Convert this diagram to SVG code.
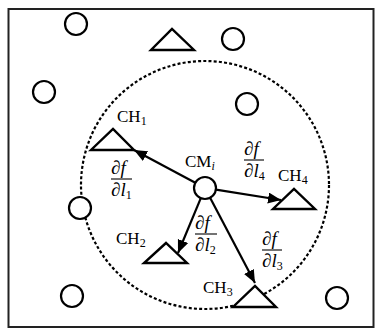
<svg xmlns="http://www.w3.org/2000/svg" width="376" height="329" viewBox="0 0 376 329">
<style>
.node{fill:#fff;stroke:#000;stroke-width:2.2}
.tri{fill:#fff;stroke:#000;stroke-width:2.4;stroke-linejoin:miter}
.conn{stroke:#000;stroke-width:2.2;fill:none}
.lbl{font-family:"Liberation Serif","DejaVu Serif",serif;font-size:17px;fill:#000}
.sub{font-size:12px}
.fr{font-family:"Liberation Serif","DejaVu Serif",serif;font-size:19px;fill:#000}
.fs{font-size:12px}
.bar{stroke:#000;stroke-width:1.1}
</style>
<defs>
<marker id="ah" markerUnits="userSpaceOnUse" markerWidth="14" markerHeight="12" refX="13" refY="5.5" orient="auto">
<path d="M0,0 L13,5.5 L0,11 Z" fill="#000"/>
</marker>
</defs>
<rect x="0" y="0" width="376" height="329" fill="#fff"/>
<rect x="8.5" y="9" width="365" height="318" fill="none" stroke="#222" stroke-width="2"/>
<circle cx="205" cy="185" r="124" fill="none" stroke="#000" stroke-width="2.2" stroke-dasharray="3 2.2"/>
<g id="n1"><circle class="node" cx="76" cy="24" r="11"/></g>
<g id="n2"><circle class="node" cx="233" cy="39" r="11"/></g>
<g id="n3"><circle class="node" cx="44" cy="92" r="11"/></g>
<g id="n4"><circle class="node" cx="247" cy="104" r="11"/></g>
<g id="n5"><circle class="node" cx="80" cy="208" r="11"/></g>
<g id="n6"><circle class="node" cx="72" cy="296" r="11"/></g>
<g id="n7"><circle class="node" cx="337" cy="298" r="11"/></g>
<g id="t0"><polygon class="tri" points="151,50 194,50 172,29"/></g>
<g id="CH1"><polygon class="tri" points="91,150 134,150 113,129"/>
<text class="lbl" x="117" y="122">CH<tspan class="sub" dy="3">1</tspan></text></g>
<g id="CH4"><polygon class="tri" points="273,209 315,209 294,189"/>
<text class="lbl" x="278" y="181">CH<tspan class="sub" dy="3">4</tspan></text></g>
<g id="CH2"><polygon class="tri" points="144,263 187,263 166,243"/>
<text class="lbl" x="116" y="244">CH<tspan class="sub" dy="3">2</tspan></text></g>
<g id="CH3"><polygon class="tri" points="233,307 276,307 255,286"/>
<text class="lbl" x="203" y="293">CH<tspan class="sub" dy="3">3</tspan></text></g>
<g id="CM"><circle class="node" cx="205" cy="188" r="11"/>
<text class="lbl" x="185" y="167">CM<tspan class="sub" font-style="italic" dy="3">i</tspan></text></g>
<g id="connectors">
<path class="conn" d="M195.3,182.8 L134,150" marker-end="url(#ah)"/>
<path class="conn" d="M215.9,189.7 L281,200" marker-end="url(#ah)"/>
<path class="conn" d="M200.8,198.2 L178,253" marker-end="url(#ah)"/>
<path class="conn" d="M210.1,197.7 L255,283" marker-end="url(#ah)"/>
</g>
<g id="d1">
<text class="fr" x="111" y="174">∂<tspan font-style="italic">f</tspan></text>
<line class="bar" x1="111" y1="179" x2="132" y2="179"/>
<text class="fr" x="111" y="196">∂<tspan font-style="italic">l</tspan><tspan class="fs" dy="3">1</tspan></text>
</g>
<g id="d4">
<text class="fr" x="244" y="155">∂<tspan font-style="italic">f</tspan></text>
<line class="bar" x1="244" y1="160" x2="264" y2="160"/>
<text class="fr" x="244" y="177">∂<tspan font-style="italic">l</tspan><tspan class="fs" dy="3">4</tspan></text>
</g>
<g id="d2">
<text class="fr" x="195" y="229">∂<tspan font-style="italic">f</tspan></text>
<line class="bar" x1="195" y1="234" x2="217" y2="234"/>
<text class="fr" x="195" y="251">∂<tspan font-style="italic">l</tspan><tspan class="fs" dy="3">2</tspan></text>
</g>
<g id="d3">
<text class="fr" x="262" y="245">∂<tspan font-style="italic">f</tspan></text>
<line class="bar" x1="262" y1="250" x2="282" y2="250"/>
<text class="fr" x="262" y="267">∂<tspan font-style="italic">l</tspan><tspan class="fs" dy="3">3</tspan></text>
</g>
</svg>
